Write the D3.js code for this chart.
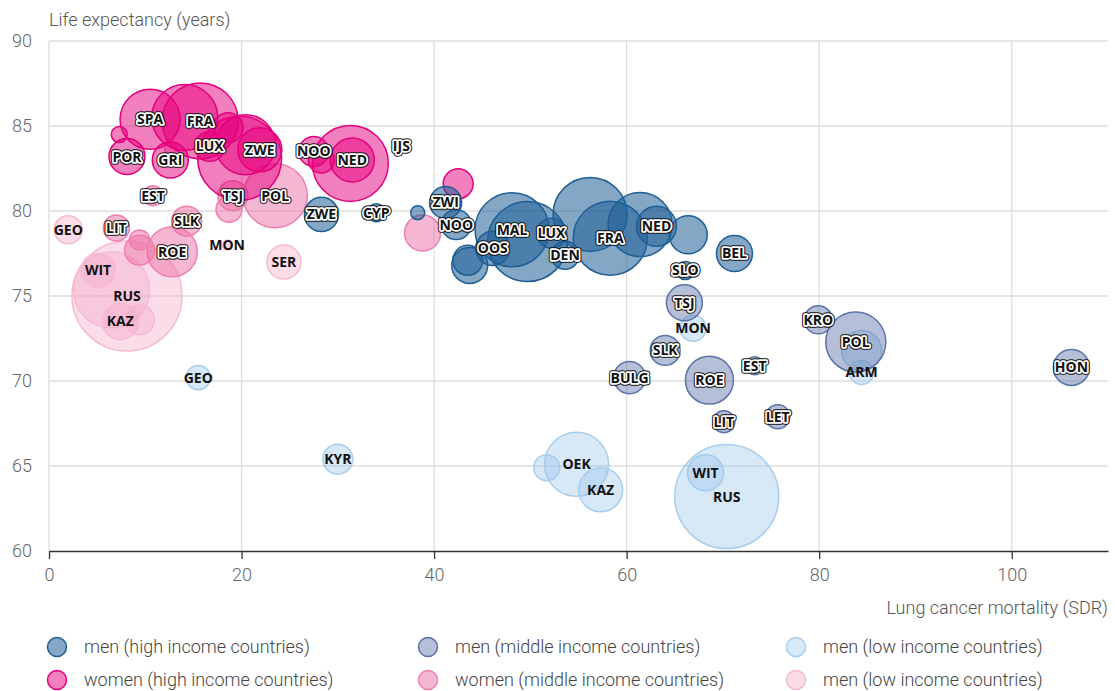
<!DOCTYPE html>
<html>
<head>
<meta charset="utf-8">
<script src="https://cdn.jsdelivr.net/npm/d3@7"></script>
<style>
  body { margin: 0; background: #fff; }
  svg text { font-family: Roboto, "Open Sans", sans-serif; }
</style>
</head>
<body>
<div class="chart"></div>
<script>
// x: lung cancer mortality (SDR), y: life expectancy, s: bubble size, c: label
var womenLow = [
  {c:'RUS', x:8.1, y:75.0, s:100},
  {c:'',    x:6.5, y:75.35, s:47.7},
  {c:'GEO', x:2.0, y:78.9, s:6.5},
  {c:'MON', x:18.5, y:78.0, s:0.8},
  {c:'SER', x:24.4, y:77.0, s:9.6},
  {c:'WIT', x:5.1, y:76.5, s:9.6},
  {c:'KAZ', x:7.4, y:73.5, s:10.7},
  {c:'',    x:9.4, y:73.6, s:7.4}
];
var womenMiddle = [
  {c:'EST', x:10.8, y:80.9, s:3.3},
  {c:'LIT', x:7.0, y:79.0, s:5.6},
  {c:'SLK', x:14.3, y:79.4, s:7.4},
  {c:'ROE', x:12.8, y:77.6, s:20.7},
  {c:'',    x:9.4, y:77.7, s:7.4},
  {c:'',    x:9.4, y:78.3, s:3.3},
  {c:'TSJ', x:19.1, y:80.9, s:7.4},
  {c:'',    x:18.7, y:80.1, s:5.6},
  {c:'POL', x:23.5, y:80.9, s:33.9},
  {c:'',    x:38.8, y:78.7, s:10.7},
  {c:'',    x:12.6, y:83.7, s:1.2}
];
var womenHigh = [
  {c:'SPA', x:10.5, y:85.4, s:29.8},
  {c:'',    x:14.1, y:85.5, s:36},
  {c:'FRA', x:15.7, y:85.3, s:47.7},
  {c:'',    x:7.3, y:84.5, s:2.1},
  {c:'POR', x:8.1, y:83.2, s:10.7},
  {c:'GRI', x:12.6, y:83.0, s:10.7},
  {c:'LUX', x:16.7, y:83.8, s:7.4},
  {c:'',    x:18.6, y:84.9, s:7.4},
  {c:'',    x:19.8, y:83.1, s:58.3},
  {c:'',    x:20.4, y:83.9, s:29.8},
  {c:'ZWE', x:21.9, y:83.6, s:16},
  {c:'NOO', x:27.5, y:83.5, s:7.4},
  {c:'',    x:28.3, y:83.0, s:5.6},
  {c:'',    x:31.3, y:82.8, s:47.7},
  {c:'NED', x:31.5, y:83.0, s:16},
  {c:'IJS', x:36.6, y:83.8, s:1.2},
  {c:'',    x:42.5, y:81.6, s:7.4}
];
var menLow = [
  {c:'MON', x:66.9, y:73.1, s:5.6},
  {c:'',    x:84.4, y:71.8, s:13.2},
  {c:'ARM', x:84.4, y:70.5, s:4.8},
  {c:'GEO', x:15.5, y:70.2, s:4.8},
  {c:'KYR', x:30.0, y:65.4, s:7.4},
  {c:'OEK', x:54.8, y:65.1, s:33.9},
  {c:'',    x:51.7, y:64.9, s:5.6},
  {c:'KAZ', x:57.3, y:63.6, s:16},
  {c:'WIT', x:68.2, y:64.6, s:10.7},
  {c:'RUS', x:70.4, y:63.2, s:89.4}
];
var menMiddle = [
  {c:'TSJ', x:66.0, y:74.6, s:10.7},
  {c:'SLK', x:64.0, y:71.8, s:7.4},
  {c:'BULG', x:60.3, y:70.2, s:8.5},
  {c:'ROE', x:68.6, y:70.05, s:19},
  {c:'EST', x:73.3, y:70.9, s:2.7},
  {c:'LIT', x:70.1, y:67.6, s:4},
  {c:'LET', x:75.7, y:67.9, s:4.8},
  {c:'KRO', x:79.9, y:73.6, s:6.5},
  {c:'POL', x:83.8, y:72.3, s:29.8},
  {c:'HON', x:106.2, y:70.8, s:10.7}
];
var menHigh = [
  {c:'ZWE', x:28.3, y:79.8, s:9.6},
  {c:'CYP', x:34.0, y:79.9, s:2.7},
  {c:'',    x:38.3, y:79.9, s:1.6},
  {c:'ZWI', x:41.2, y:80.5, s:8.5},
  {c:'NOO', x:42.3, y:79.2, s:7.4},
  {c:'',    x:43.7, y:76.8, s:10.7},
  {c:'',    x:43.5, y:77.1, s:7.4},
  {c:'OOS', x:46.1, y:77.8, s:9.6},
  {c:'MAL', x:48.1, y:78.9, s:45.3},
  {c:'',    x:49.7, y:78.2, s:52.9},
  {c:'LUX', x:52.2, y:78.7, s:7.4},
  {c:'DEN', x:53.6, y:77.4, s:6.5},
  {c:'',    x:56.2, y:79.8, s:45.3},
  {c:'FRA', x:58.3, y:78.4, s:45.3},
  {c:'',    x:61.4, y:79.2, s:33.9},
  {c:'NED', x:63.1, y:79.1, s:13.2},
  {c:'',    x:66.4, y:78.6, s:11.9},
  {c:'SLO', x:66.1, y:76.5, s:2.7},
  {c:'BEL', x:71.2, y:77.5, s:10.7}
];

var xTicks = [0, 20, 40, 60, 80, 100];
var yTicks = [60, 65, 70, 75, 80, 85, 90];
var legendNames = ['men (high income countries)', 'men (middle income countries)', 'men (low income countries)',
                   'women (high income countries)', 'women (middle income countries)', 'men (low income countries)'];

var groups = [
  {data:womenLow,    fill:'#f5a9c9', op:0.4,  stroke:'#f6bad3', halo:false},
  {data:womenMiddle, fill:'#ee6fa6', op:0.5,  stroke:'#ef7fb0', halo:true},
  {data:womenHigh,   fill:'#e6007e', op:0.5,  stroke:'#e6007e', halo:true},
  {data:menLow,      fill:'#9cc6ea', op:0.4,  stroke:'#a9cdec', halo:false},
  {data:menMiddle,   fill:'#5b73a8', op:0.45, stroke:'#5b73a8', halo:true},
  {data:menHigh,     fill:'#1f5f96', op:0.55, stroke:'#1f5f96', halo:true}
];
// legend order: men high, men middle, men low, women high, women middle, women low
var legendGroups = [groups[5], groups[4], groups[3], groups[2], groups[1], groups[0]];

var width = 1115, height = 691;
var svg = d3.select('.chart').append('svg').attr('width', width).attr('height', height);

var x = d3.scaleLinear().domain([0, 110]).range([49, 1108]);
var y = d3.scaleLinear().domain([60, 90]).range([551, 41]);
var r = d3.scaleSqrt().domain([0, 100]).range([0, 55]);

// grid
svg.append('g').selectAll('line').data(xTicks).enter().append('line')
  .attr('x1', d => x(d)).attr('x2', d => x(d))
  .attr('y1', y(90)).attr('y2', y(60))
  .style('stroke', '#dedede').style('stroke-width', 1.3);
svg.append('g').selectAll('line').data(yTicks.slice(1)).enter().append('line')
  .attr('x1', x(0)).attr('x2', x(110))
  .attr('y1', d => y(d)).attr('y2', d => y(d))
  .style('stroke', '#dedede').style('stroke-width', 1.3);

// y axis labels
var yAxis = svg.append('g').attr('transform', 'translate(' + x(0) + ',0)')
  .call(d3.axisLeft(y).tickValues(yTicks).tickSize(0).tickPadding(17));
yAxis.select('.domain').remove();
yAxis.selectAll('text').style('font-size', '18px').style('fill', '#666').style('font-family', 'Roboto').style('font-weight', 300);

// bubbles
var bubbles = svg.append('g');
groups.forEach(function(g){
  bubbles.append('g').selectAll('circle').data(g.data).enter().append('circle')
    .attr('cx', d => x(d.x)).attr('cy', d => y(d.y)).attr('r', d => r(d.s))
    .style('fill', g.fill).style('fill-opacity', g.op)
    .style('stroke', g.stroke).style('stroke-width', 1.5);
});

// x axis
var xAxis = svg.append('g').attr('transform', 'translate(0,' + y(60) + ')')
  .call(d3.axisBottom(x).tickValues(xTicks).tickSize(8).tickPadding(9).tickSizeOuter(0));
xAxis.select('.domain').style('stroke', '#333').style('stroke-width', 1.6);
xAxis.selectAll('line').style('stroke', '#333').style('stroke-width', 1.3);
xAxis.selectAll('text').style('font-size', '18px').style('fill', '#666').style('font-family', 'Roboto').style('font-weight', 300);

// labels
var labels = svg.append('g');
groups.forEach(function(g){
  var d = g.data.filter(p => p.c !== '');
  if (g.halo) {
    labels.append('g').selectAll('text').data(d).enter().append('text')
      .attr('x', p => x(p.x)).attr('y', p => y(p.y)).attr('dy', '0.35em')
      .attr('text-anchor', 'middle').text(p => p.c)
      .style('font-family', '"Open Sans", sans-serif').style('font-weight', 'bold').style('font-size', '14px')
      .style('fill', '#111').style('stroke', '#111').style('stroke-width', 5.5).style('stroke-linejoin', 'round');
    labels.append('g').selectAll('text').data(d).enter().append('text')
      .attr('x', p => x(p.x)).attr('y', p => y(p.y)).attr('dy', '0.35em')
      .attr('text-anchor', 'middle').text(p => p.c)
      .style('font-family', '"Open Sans", sans-serif').style('font-weight', 'bold').style('font-size', '14px')
      .style('fill', '#111').style('stroke', '#fff').style('stroke-width', 3.5).style('stroke-linejoin', 'round')
      .style('paint-order', 'stroke');
  } else {
    labels.append('g').selectAll('text').data(d).enter().append('text')
      .attr('x', p => x(p.x)).attr('y', p => y(p.y)).attr('dy', '0.35em')
      .attr('text-anchor', 'middle').text(p => p.c)
      .style('font-family', '"Open Sans", sans-serif').style('font-weight', 'bold').style('font-size', '14px')
      .style('fill', '#111');
  }
});

// axis titles
svg.append('text').text('Life expectancy (years)')
  .attr('x', 49).attr('y', 26)
  .style('font-size', '18px').style('fill', '#555').style('font-weight', 300);
svg.append('text').text('Lung cancer mortality (SDR)')
  .attr('x', 1108).attr('y', 614).attr('text-anchor', 'end')
  .style('font-size', '18px').style('fill', '#555').style('font-weight', 300);

// legend
var legX = [57, 428, 796];
var legY = [647, 680];
var legend = svg.append('g').selectAll('g').data(legendNames).enter().append('g')
  .attr('transform', (d, i) => 'translate(' + legX[i % 3] + ',' + legY[Math.floor(i / 3)] + ')');
legend.append('circle').attr('r', 9.5)
  .style('fill', (d, i) => legendGroups[i].fill)
  .style('fill-opacity', (d, i) => legendGroups[i].op)
  .style('stroke', (d, i) => legendGroups[i].stroke).style('stroke-width', 1.5);
legend.append('text').text(d => d)
  .attr('x', 27).attr('dy', '0.35em')
  .style('font-size', '18px').style('fill', '#444').style('font-weight', 300);
</script>
</body>
</html>
